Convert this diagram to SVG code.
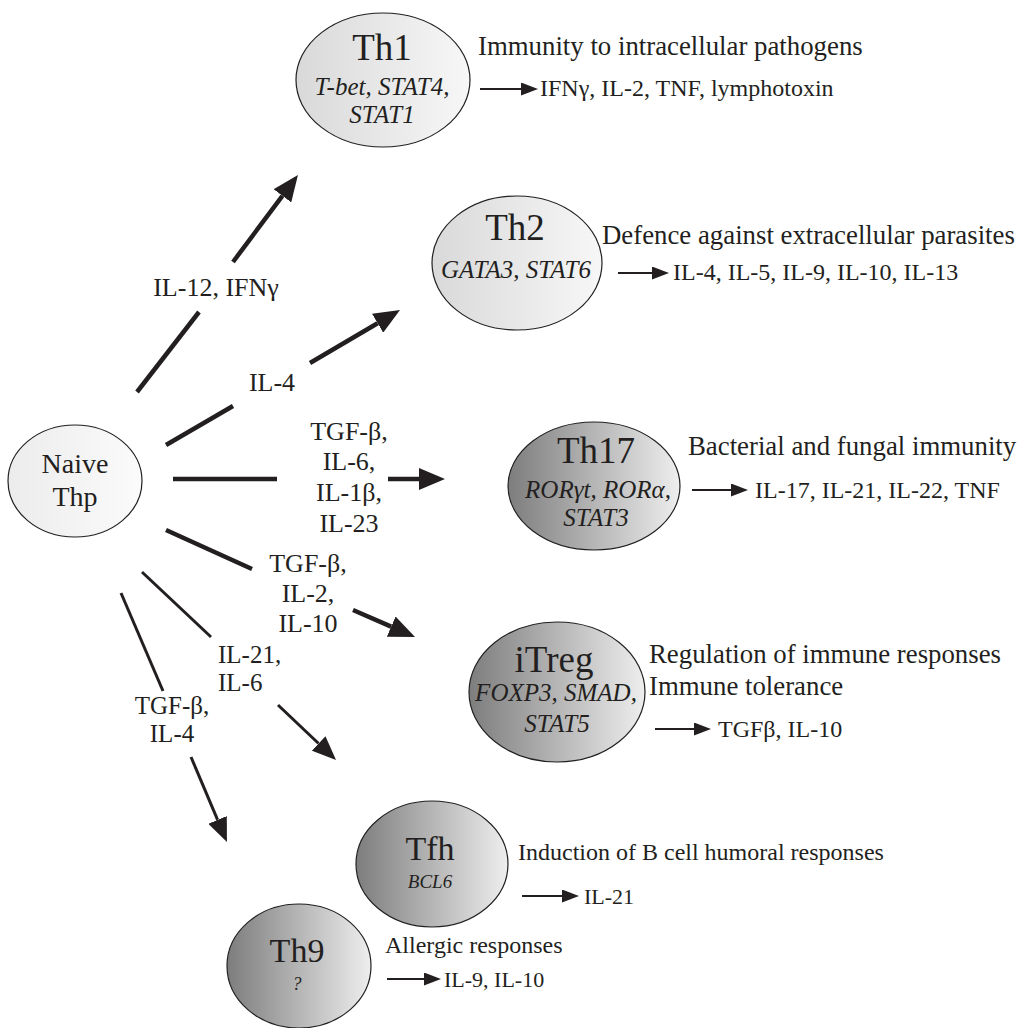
<svg xmlns="http://www.w3.org/2000/svg" width="1030" height="1028" viewBox="0 0 1030 1028">
<defs>
<linearGradient id="gLight" x1="0" y1="0" x2="1" y2="0"><stop offset="0" stop-color="#d9d9d9"/><stop offset="1" stop-color="#f7f7f7"/></linearGradient>
<linearGradient id="gNaive" x1="0" y1="0" x2="1" y2="0"><stop offset="0" stop-color="#ececec"/><stop offset="1" stop-color="#fbfbfb"/></linearGradient>
<linearGradient id="gDark" x1="0" y1="0" x2="1" y2="0"><stop offset="0" stop-color="#7d7d7d"/><stop offset="1" stop-color="#eeeeee"/></linearGradient>
<marker id="ah" markerUnits="userSpaceOnUse" markerWidth="26" markerHeight="22" viewBox="0 -11 26 22" refX="0" refY="0" orient="auto"><path d="M0,-11 L26,0 L0,11 Z" fill="#231f20"/></marker>
<marker id="ahm" markerUnits="userSpaceOnUse" markerWidth="24" markerHeight="20" viewBox="0 -10 24 20" refX="0" refY="0" orient="auto"><path d="M0,-10 L24,0 L0,10 Z" fill="#231f20"/></marker>
<marker id="ahs" markerUnits="userSpaceOnUse" markerWidth="17" markerHeight="13" viewBox="0 -6.5 17 13" refX="0" refY="0" orient="auto"><path d="M0,-6.5 L17,0 L0,6.5 Z" fill="#231f20"/></marker>
</defs>
<style>
text{font-family:"Liberation Serif","Times New Roman",serif;fill:#231f20}
.cell{stroke:#231f20;stroke-width:1.2}
.title{font-size:37px;text-anchor:middle}
.tf{font-size:25px;font-style:italic;text-anchor:middle}
.desc{font-size:26.8px}
.cyt{font-size:24px}
.lab{font-size:25px}
.labc{font-size:26px;text-anchor:middle}
.labs{font-size:25px;text-anchor:middle}
.thick{stroke:#231f20;stroke-width:4.5;fill:none}
.mid{stroke:#231f20;stroke-width:3;fill:none}
.small{stroke:#231f20;stroke-width:2.2;fill:none}
</style>
<rect width="1030" height="1028" fill="#ffffff"/>

<g id="connectors">
<line class="thick" x1="137" y1="392" x2="199" y2="312"/>
<line class="thick" x1="233" y1="262" x2="282.4" y2="195.8" marker-end="url(#ah)"/>
<line class="thick" x1="166" y1="445" x2="233" y2="406"/>
<line class="thick" x1="310" y1="363" x2="377.6" y2="323.2" marker-end="url(#ah)"/>
<line class="thick" x1="173" y1="479" x2="277" y2="479"/>
<line class="thick" x1="388" y1="479" x2="419" y2="479" marker-end="url(#ah)"/>
<line class="thick" x1="166" y1="530" x2="252" y2="569"/>
<line class="thick" x1="353" y1="610" x2="391.2" y2="626.6" marker-end="url(#ah)"/>
<line class="mid" x1="142" y1="572" x2="211" y2="637"/>
<line class="mid" x1="278" y1="705" x2="318.6" y2="743.5" marker-end="url(#ahm)"/>
<line class="mid" x1="121" y1="593" x2="163" y2="691"/>
<line class="mid" x1="191" y1="757" x2="217.6" y2="819.9" marker-end="url(#ahm)"/>
<text class="labc" x="216" y="296">IL-12, IFNγ</text>
<text class="labc" x="272" y="391">IL-4</text>
<text class="labc" x="349" y="440">TGF-β,</text>
<text class="labc" x="349" y="470">IL-6,</text>
<text class="labc" x="349" y="501">IL-1β,</text>
<text class="labc" x="349" y="532">IL-23</text>
<text class="labc" x="308" y="572">TGF-β,</text>
<text class="labc" x="308" y="602">IL-2,</text>
<text class="labc" x="308" y="632">IL-10</text>
<text class="lab" x="218" y="663">IL-21,</text>
<text class="lab" x="218" y="691">IL-6</text>
<text class="labs" x="172" y="714">TGF-β,</text>
<text class="labs" x="172" y="742">IL-4</text>
</g>

<g id="naive">
<ellipse class="cell" cx="75" cy="481" rx="67" ry="56" fill="url(#gNaive)"/>
<text x="75" y="473" style="font-size:28px;text-anchor:middle">Naive</text>
<text x="75" y="506" style="font-size:28px;text-anchor:middle">Thp</text>
</g>

<g id="th1">
<ellipse class="cell" cx="383" cy="80" rx="87" ry="67" fill="url(#gLight)"/>
<text class="title" x="382" y="60">Th1</text>
<text class="tf" x="382" y="95">T-bet, STAT4,</text>
<text class="tf" x="382" y="123">STAT1</text>
<text class="desc" x="478" y="55">Immunity to intracellular pathogens</text>
<line class="small" x1="480" y1="89" x2="521" y2="89" marker-end="url(#ahs)"/>
<text class="cyt" x="540" y="96">IFNγ, IL-2, TNF, lymphotoxin</text>
</g>

<g id="th2">
<ellipse class="cell" cx="517" cy="263" rx="85" ry="67" fill="url(#gLight)"/>
<text class="title" x="515" y="240">Th2</text>
<text class="tf" x="516" y="278">GATA3, STAT6</text>
<text class="desc" x="602" y="244">Defence against extracellular parasites</text>
<line class="small" x1="618" y1="273" x2="652" y2="273" marker-end="url(#ahs)"/>
<text class="cyt" x="673" y="280">IL-4, IL-5, IL-9, IL-10, IL-13</text>
</g>

<g id="th17">
<ellipse class="cell" cx="594" cy="486" rx="86" ry="64" fill="url(#gDark)"/>
<text class="title" x="596" y="463">Th17</text>
<text class="tf" x="598" y="498">RORγt, RORα,</text>
<text class="tf" x="596" y="526">STAT3</text>
<text class="desc" x="688" y="455">Bacterial and fungal immunity</text>
<line class="small" x1="692" y1="490" x2="731" y2="490" marker-end="url(#ahs)"/>
<text class="cyt" x="755" y="498">IL-17, IL-21, IL-22, TNF</text>
</g>

<g id="itreg">
<ellipse class="cell" cx="557" cy="692" rx="88" ry="70" fill="url(#gDark)"/>
<text class="title" x="554" y="672">iTreg</text>
<text class="tf" x="556" y="701">FOXP3, SMAD,</text>
<text class="tf" x="557" y="732">STAT5</text>
<text class="desc" x="649" y="663">Regulation of immune responses</text>
<text class="desc" x="649" y="695">Immune tolerance</text>
<line class="small" x1="655" y1="729" x2="694" y2="729" marker-end="url(#ahs)"/>
<text class="cyt" x="718" y="737">TGFβ, IL-10</text>
</g>

<g id="tfh">
<ellipse class="cell" cx="432" cy="864" rx="76" ry="63" fill="url(#gDark)"/>
<text class="title" x="430" y="860" style="font-size:34px">Tfh</text>
<text class="tf" x="430" y="888" style="font-size:19px">BCL6</text>
<text x="518" y="860" style="font-size:24px">Induction of B cell humoral responses</text>
<line class="small" x1="522" y1="896" x2="562" y2="896" marker-end="url(#ahs)"/>
<text x="584" y="904" style="font-size:22px">IL-21</text>
</g>

<g id="th9">
<ellipse class="cell" cx="299" cy="966" rx="72" ry="62" fill="url(#gDark)"/>
<text class="title" x="297" y="962" style="font-size:34px">Th9</text>
<text class="tf" x="297" y="990" style="font-size:18px">?</text>
<text x="385" y="953" style="font-size:24px">Allergic responses</text>
<line class="small" x1="387" y1="979" x2="424" y2="979" marker-end="url(#ahs)"/>
<text x="444" y="987" style="font-size:22px">IL-9, IL-10</text>
</g>
</svg>
